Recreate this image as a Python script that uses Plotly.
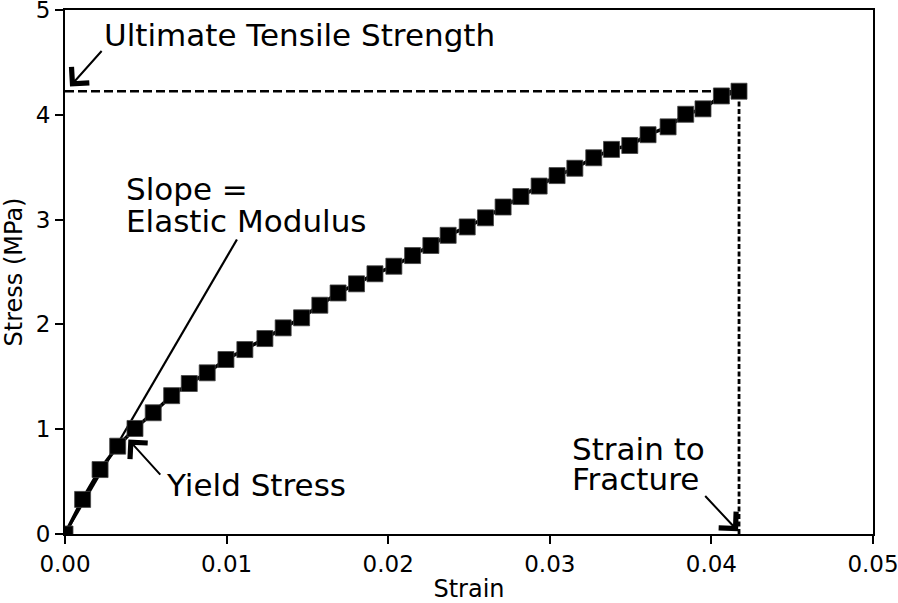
import plotly.graph_objects as go

# ---- data ----
strain = [0.0, 0.00109, 0.00217, 0.00326, 0.00433, 0.00546, 0.00660, 0.00769, 0.00880, 0.00996,
          0.01113, 0.01237, 0.01350, 0.01464, 0.01577, 0.01690, 0.01804, 0.01918, 0.02035, 0.02151,
          0.02264, 0.02371, 0.02489, 0.02602, 0.02711, 0.02821, 0.02934, 0.03045, 0.03155, 0.03272,
          0.03382, 0.03495, 0.03608, 0.03732, 0.03841, 0.03948, 0.04062, 0.04171]
stress = [0.0, 0.33, 0.615, 0.838, 1.007, 1.157, 1.32, 1.436, 1.538, 1.665,
          1.76, 1.865, 1.967, 2.063, 2.183, 2.30, 2.387, 2.483, 2.555, 2.657,
          2.753, 2.85, 2.93, 3.017, 3.12, 3.22, 3.32, 3.42, 3.49, 3.59,
          3.67, 3.707, 3.81, 3.885, 4.005, 4.057, 4.18, 4.225]

elastic_strain = [0.0, 0.01064]
elastic_stress = [0.0, 2.81]

x_ticks = [0, 0.01, 0.02, 0.03, 0.04, 0.05]
x_tick_labels = ["0.00", "0.01", "0.02", "0.03", "0.04", "0.05"]
y_ticks = [0, 1, 2, 3, 4, 5]
y_tick_labels = ["0", "1", "2", "3", "4", "5"]

uts = max(stress)
fracture_strain = max(strain)

FONT = "DejaVu Sans"
ANN = 31

fig = go.Figure()

# dashed guide lines
fig.add_trace(go.Scatter(x=[0, fracture_strain], y=[uts, uts], mode="lines",
                         line=dict(color="black", width=2.6, dash="9px,4px"),
                         showlegend=False, hoverinfo="skip"))
fig.add_trace(go.Scatter(x=[fracture_strain, fracture_strain], y=[0, uts], mode="lines",
                         line=dict(color="black", width=2.8, dash="5px,2.5px"),
                         showlegend=False, hoverinfo="skip"))

# elastic modulus line
fig.add_trace(go.Scatter(x=elastic_strain, y=elastic_stress, mode="lines",
                         line=dict(color="black", width=2.2),
                         showlegend=False, hoverinfo="skip"))

# data
fig.add_trace(go.Scatter(x=strain, y=stress, mode="lines+markers",
                         line=dict(color="black", width=3.5),
                         marker=dict(symbol="square", size=16, color="black",
                                     line=dict(color="#444", width=0.8)),
                         showlegend=False))

texts = [
    ("Ultimate Tensile Strength", 0.00235, 4.766),
    ("Slope =", 0.00371, 3.29),
    ("Elastic Modulus", 0.00371, 2.985),
    ("Yield Stress", 0.00619, 0.466),
    ("Strain to", 0.03134, 0.81),
    ("Fracture", 0.03134, 0.523),
]
for t, x, y in texts:
    fig.add_annotation(x=x, y=y, text=t, showarrow=False, xanchor="left", yanchor="middle",
                       xref="x", yref="y", font=dict(family=FONT, size=ANN, color="black"),
                       borderpad=0)

arrows = [
    # (head_x, head_y, tail_x, tail_y)
    (0.00031, 4.27, 0.00235, 4.623),
    (0.00392, 0.902, 0.00598, 0.552),
    (0.04165, 0.027, 0.03953, 0.377),
]
for hx, hy, tx, ty in arrows:
    fig.add_annotation(x=hx, y=hy, ax=tx, ay=ty, xref="x", yref="y", axref="x", ayref="y",
                       text="", showarrow=True, arrowhead=4, arrowsize=2.3, arrowwidth=2,
                       arrowcolor="black")

axis_common = dict(showgrid=False, zeroline=False, showline=True, linecolor="black",
                   linewidth=2, mirror=True, ticks="outside", ticklen=8, tickwidth=1.8,
                   tickcolor="black", tickfont=dict(family=FONT, size=23, color="black"),
                   automargin=False, ticklabeloverflow="allow")

fig.update_xaxes(range=[0, 0.05], tickvals=x_ticks, ticktext=x_tick_labels,
                 title=dict(text="Strain", font=dict(family=FONT, size=24, color="black"), standoff=8),
                 **axis_common)
fig.update_yaxes(range=[0, 5], tickvals=y_ticks, ticktext=y_tick_labels,
                 title=dict(text="Stress (MPa)", font=dict(family=FONT, size=24, color="black"), standoff=10),
                 **axis_common)

fig.update_layout(width=898, height=603, margin=dict(l=65, r=25, t=10, b=69),
                  plot_bgcolor="white", paper_bgcolor="white",
                  font=dict(family=FONT, color="black"))

fig.write_html("out.html", config={"displayModeBar": False},
               post_script="document.body.style.margin='0px';document.body.style.overflow='hidden';")
